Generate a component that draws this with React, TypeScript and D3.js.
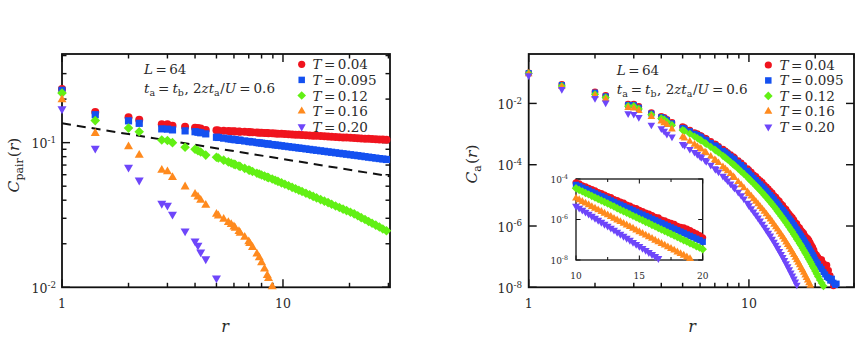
import React, { useEffect, useRef } from "react";
import * as d3 from "d3";

const W = 856;
const H = 338;
const FONT = "'DejaVu Serif', 'Liberation Serif', serif";

// ---- legend / series
const temps = ["0.04", "0.095", "0.12", "0.16", "0.20"];
const colors = ["#f0141e", "#1450f0", "#62f014", "#ff8a1e", "#6e46fa"];
const shapes = ["circle", "square", "diamond", "triangle", "triangleDown"];

// ---- left panel: C_pair(r)
const rPair = [
  1, 1.414, 2, 2.236, 2.828, 3, 3.162, 3.606, 4, 4.123, 4.243, 4.472,
  5, 5.1, 5.39, 5.66, 5.83, 6, 6.08, 6.32, 6.4, 6.71,
  7, 7.07, 7.28, 7.62, 7.81, 8, 8.25, 8.49, 8.6, 8.94,
  9.22, 9.49, 9.85, 10.2, 10.6, 11, 11.4, 11.8, 12.2, 12.7,
  13.2, 13.7, 14.2, 14.8, 15.4, 16, 16.6, 17.3, 18, 18.7,
  19.4, 20.2, 21, 21.8, 22.6, 23.5, 24.4, 25.3, 26.3, 27.3,
  28.3, 29.4,
];
const pairT004 = [
  0.235, 0.163, 0.150, 0.144, 0.134, 0.134, 0.131, 0.129, 0.127, 0.126, 0.125, 0.1225,
  0.1216, 0.1214, 0.1208, 0.1204, 0.1201, 0.1198, 0.1196, 0.1193, 0.1191, 0.1187,
  0.1183, 0.1182, 0.1179, 0.1175, 0.1172, 0.1170, 0.1167, 0.1164, 0.1163, 0.1159,
  0.1156, 0.1153, 0.1150, 0.1146, 0.1142, 0.1139, 0.1135, 0.1132, 0.1128, 0.1124,
  0.1121, 0.1117, 0.1114, 0.1110, 0.1106, 0.1102, 0.1099, 0.1095, 0.1091, 0.1087,
  0.1084, 0.1080, 0.1077, 0.1073, 0.1070, 0.1066, 0.1063, 0.1059, 0.1056, 0.1053,
  0.1050, 0.1046,
];
const pairT0095 = [
  0.230, 0.156, 0.1415, 0.136, 0.1245, 0.124, 0.1225, 0.1206, 0.119, 0.118, 0.117, 0.115,
  0.1090, 0.1086, 0.1074, 0.1063, 0.1057, 0.1051, 0.1048, 0.1040, 0.1037, 0.1027,
  0.1019, 0.1017, 0.1011, 0.1002, 0.0997, 0.0992, 0.0986, 0.0980, 0.0978, 0.0970,
  0.0964, 0.0959, 0.0952, 0.0945, 0.0938, 0.0931, 0.0925, 0.0918, 0.0912, 0.0905,
  0.0898, 0.0891, 0.0885, 0.0878, 0.0871, 0.0864, 0.0858, 0.0851, 0.0844, 0.0838,
  0.0832, 0.0825, 0.0819, 0.0813, 0.0807, 0.0800, 0.0794, 0.0788, 0.0782, 0.0776,
  0.0771, 0.0765,
];
const pairT012 = [
  0.220, 0.142, 0.126, 0.119, 0.1044, 0.1035, 0.100, 0.093, 0.090, 0.088, 0.0862, 0.082,
  0.0793, 0.0783, 0.0757, 0.0736, 0.0723, 0.0710, 0.0705, 0.0689, 0.0684, 0.0664,
  0.0647, 0.0644, 0.0632, 0.0615, 0.0607, 0.0598, 0.0587, 0.0577, 0.0573, 0.0560,
  0.0550, 0.0540, 0.0527, 0.0516, 0.0503, 0.0491, 0.0480, 0.0469, 0.0459, 0.0447,
  0.0436, 0.0425, 0.0415, 0.0404, 0.0394, 0.0385, 0.0375, 0.0365, 0.0356, 0.0347,
  0.0339, 0.0330, 0.0322, 0.0312, 0.0303, 0.0294, 0.0285, 0.0277, 0.0269, 0.0261,
  0.0253, 0.0246,
];
const pairT016 = [
  0.198, 0.116, 0.0938, 0.082, 0.0646, 0.063, 0.0575, 0.0495, 0.044, 0.0422, 0.040, 0.037,
  0.0320, 0.0312, 0.0296, 0.0281, 0.0272, 0.0262, 0.0256, 0.0243, 0.0237, 0.0222,
  0.0207, 0.0201, 0.0189, 0.0170, 0.0160, 0.0148, 0.0134, 0.0121, 0.0115, 0.0101,
];
const pairT020 = [
  0.171, 0.0914, 0.0675, 0.055, 0.038, 0.0369, 0.032, 0.0245, 0.0209, 0.0195, 0.0175, 0.0157,
  0.0116,
];
const pairSeries = [pairT004, pairT0095, pairT012, pairT016, pairT020];
// dashed guide line (r, C)
const pairGuide: [number, number][] = [[1, 0.136], [30.5, 0.0585]];

// ---- right panel: log10 C_a(r)
const rCa = [
  1, 1.414, 2, 2.236, 2.828, 3, 3.162, 3.606, 4, 4.123, 4.243, 4.472,
  5, 5.1, 5.39, 5.66, 5.83, 6, 6.08, 6.32, 6.4, 6.71,
  7, 7.07, 7.28, 7.62, 7.81, 8, 8.25, 8.49, 8.6, 8.94,
  9.22, 9.49, 9.85,
  10, 10.25, 10.5, 10.75, 11, 11.25, 11.5, 11.75, 12, 12.25,
  12.5, 12.75, 13, 13.25, 13.5, 13.75, 14, 14.25, 14.5, 14.75,
  15, 15.25, 15.5, 15.75, 16, 16.25, 16.5, 16.75, 17, 17.25,
  17.5, 17.75, 18, 18.25, 18.5, 18.75, 19, 19.25, 19.5, 19.75,
  20, 20.3, 20.6, 21, 21.4, 21.8, 22.2, 22.6, 23, 23.4,
  23.8, 24.2, 24.6, 25,
];
const caT004 = [
  -1.00, -1.38, -1.62, -1.74, -2.02, -2.02, -2.10, -2.30, -2.42, -2.46, -2.52, -2.62,
  -2.76, -2.79, -2.87, -2.95, -2.99, -3.04, -3.06, -3.13, -3.15, -3.24,
  -3.32, -3.34, -3.40, -3.49, -3.55, -3.61, -3.67, -3.74, -3.77, -3.87,
  -3.94, -4.02, -4.13,
  -4.18, -4.24, -4.33, -4.38, -4.46, -4.52, -4.58, -4.67, -4.72, -4.79,
  -4.86, -4.92, -5.01, -5.06, -5.14, -5.19, -5.28, -5.33, -5.42, -5.46,
  -5.55, -5.61, -5.68, -5.73, -5.80, -5.89, -5.92, -6.02, -6.06, -6.14,
  -6.19, -6.24, -6.33, -6.38, -6.41, -6.47, -6.55, -6.63, -6.70, -6.79,
  -6.90, -6.95, -7.02, -7.08, -7.10, -7.22, -7.30, -7.28, -7.45, -7.62,
  -7.80, -7.95,
];
const caT0095 = [
  -1.01, -1.40, -1.65, -1.77, -2.05, -2.05, -2.14, -2.33, -2.45, -2.49, -2.55, -2.65,
  -2.80, -2.83, -2.91, -2.99, -3.03, -3.08, -3.11, -3.18, -3.20, -3.29,
  -3.37, -3.39, -3.45, -3.55, -3.60, -3.66, -3.73, -3.80, -3.83, -3.93,
  -4.01, -4.09, -4.20,
  -4.29, -4.35, -4.43, -4.50, -4.57, -4.64, -4.71, -4.78, -4.85, -4.92,
  -4.99, -5.06, -5.13, -5.21, -5.27, -5.34, -5.42, -5.48, -5.55, -5.62,
  -5.70, -5.76, -5.83, -5.90, -5.97, -6.04, -6.11, -6.18, -6.25, -6.32,
  -6.39, -6.46, -6.53, -6.60, -6.66, -6.74, -6.81, -6.88, -6.95, -7.02,
  -7.10, -7.17, -7.24, -7.33, -7.40, -7.50, -7.58, -7.66, -7.70, -7.78,
  -7.72, -7.85, -7.92, -7.88,
];
const caT012 = [
  -1.02, -1.43, -1.70, -1.81, -2.09, -2.09, -2.18, -2.37, -2.49, -2.53, -2.60, -2.71,
  -2.87, -2.90, -2.99, -3.08, -3.13, -3.19, -3.21, -3.29, -3.32, -3.42,
  -3.51, -3.53, -3.60, -3.71, -3.77, -3.83, -3.91, -3.99, -4.02, -4.13,
  -4.22, -4.30, -4.41,
  -4.46, -4.54, -4.61, -4.69, -4.76, -4.84, -4.91, -4.99, -5.06, -5.14,
  -5.21, -5.29, -5.36, -5.44, -5.52, -5.59, -5.67, -5.74, -5.82, -5.89,
  -5.97, -6.04, -6.12, -6.19, -6.27, -6.34, -6.42, -6.49, -6.57, -6.64,
  -6.72, -6.79, -6.87, -6.94, -7.02, -7.09, -7.17, -7.24, -7.32, -7.39,
  -7.47, -7.56, -7.65, -7.76, -7.86, -7.96,
];
const caT016 = [
  -1.04, -1.46, -1.74, -1.86, -2.14, -2.16, -2.24, -2.44, -2.58, -2.64, -2.70, -2.84,
  -3.10, -3.14, -3.24, -3.34, -3.41, -3.47, -3.50, -3.59, -3.62, -3.73,
  -3.84, -3.87, -3.94, -4.07, -4.14, -4.21, -4.30, -4.39, -4.43, -4.56,
  -4.66, -4.76, -4.89,
  -4.95, -5.03, -5.12, -5.20, -5.28, -5.37, -5.45, -5.53, -5.61, -5.70,
  -5.78, -5.86, -5.95, -6.03, -6.11, -6.20, -6.28, -6.36, -6.44, -6.53,
  -6.61, -6.69, -6.78, -6.86, -6.94, -7.03, -7.11, -7.19, -7.27, -7.36,
  -7.44, -7.52, -7.61, -7.69, -7.77, -7.86, -7.94,
];
const caT020 = [
  -1.09, -1.54, -1.83, -1.98, -2.33, -2.35, -2.45, -2.70, -2.82, -2.90, -3.00, -3.09,
  -3.33, -3.37, -3.49, -3.59, -3.66, -3.73, -3.76, -3.85, -3.89, -4.01,
  -4.12, -4.15, -4.23, -4.37, -4.44, -4.52, -4.62, -4.71, -4.76, -4.89,
  -5.00, -5.11, -5.25,
  -5.33, -5.43, -5.53, -5.63, -5.73, -5.83, -5.93, -6.03, -6.13, -6.23,
  -6.32, -6.42, -6.52, -6.62, -6.72, -6.82, -6.92, -7.02, -7.12, -7.22,
  -7.32, -7.42, -7.52, -7.62, -7.72, -7.82, -7.92,
];
const caSeries = [caT004, caT0095, caT012, caT016, caT020];

// ---- ticks
const rMajor = [1, 10];
const rMinor = [2, 3, 4, 5, 6, 7, 8, 9, 20, 30];
const pairMajor = [0.01, 0.1];
const pairMinor = [0.02, 0.03, 0.04, 0.05, 0.06, 0.07, 0.08, 0.09, 0.2, 0.3, 0.4];
const caMajor = [1e-2, 1e-4, 1e-6, 1e-8];
const insetXMajor = [10, 15, 20];
const insetXMinor = [12.5, 17.5];
const insetYMajor = [1e-4, 1e-6, 1e-8];

type Part = { t: string; it?: boolean; sub?: boolean; sup?: boolean; dx?: number; size?: number };

function mathText(parent: any, x: number, y: number, parts: Part[], size: number, anchor = "start", rotate = 0) {
  const text = parent.append("text")
    .attr("x", x).attr("y", y)
    .attr("font-family", FONT)
    .attr("font-size", size)
    .attr("text-anchor", anchor)
    .attr("fill", "#2a2a2a");
  if (rotate) text.attr("transform", `rotate(${rotate},${x},${y})`);
  let shift = 0;
  parts.forEach((p) => {
    const target = p.sub ? size * 0.28 : p.sup ? -size * 0.42 : 0;
    const ts = text.append("tspan").text(p.t).attr("dy", target - shift);
    shift = target;
    if (p.sub || p.sup) ts.attr("font-size", size * 0.7);
    if (p.size) ts.attr("font-size", p.size);
    if (p.it) ts.attr("font-style", "italic");
    if (p.dx) ts.attr("dx", p.dx);
  });
  return text;
}

function markerPath(shape: string, k: number) {
  const r = 4 * k;
  if (shape === "circle") return `M${-r},0a${r},${r} 0 1,0 ${2 * r},0a${r},${r} 0 1,0 ${-2 * r},0Z`;
  if (shape === "square") {
    const h = 3.6 * k;
    return `M${-h},${-h}h${2 * h}v${2 * h}h${-2 * h}Z`;
  }
  if (shape === "diamond") {
    const d = 4.8 * k;
    return `M0,${-d}L${d},0L0,${d}L${-d},0Z`;
  }
  const a = 9 * k;
  const h = a * 0.866;
  if (shape === "triangle") return `M0,${(-2 * h) / 3}L${a / 2},${h / 3}L${-a / 2},${h / 3}Z`;
  return `M0,${(2 * h) / 3}L${a / 2},${-h / 3}L${-a / 2},${-h / 3}Z`;
}

function frame(g: any, x: any, y: any, xMaj: number[], xMin: number[], yMaj: number[], yMin: number[], maj: number, min: number, sw: number) {
  const [x0, x1] = x.range();
  const [y0, y1] = y.range(); // y0 bottom, y1 top
  const tick = (v: number, len: number, isX: boolean) => {
    if (isX) {
      const px = x(v);
      g.append("line").attr("x1", px).attr("x2", px).attr("y1", y0).attr("y2", y0 - len);
      g.append("line").attr("x1", px).attr("x2", px).attr("y1", y1).attr("y2", y1 + len);
    } else {
      const py = y(v);
      g.append("line").attr("x1", x0).attr("x2", x0 + len).attr("y1", py).attr("y2", py);
      g.append("line").attr("x1", x1).attr("x2", x1 - len).attr("y1", py).attr("y2", py);
    }
  };
  const xd = x.domain();
  const yd = y.domain();
  const inX = (v: number) => v >= Math.min(...xd) && v <= Math.max(...xd);
  const inY = (v: number) => v >= Math.min(...yd) && v <= Math.max(...yd);
  xMaj.filter(inX).forEach((v) => tick(v, maj, true));
  xMin.filter(inX).forEach((v) => tick(v, min, true));
  yMaj.filter(inY).forEach((v) => tick(v, maj, false));
  yMin.filter(inY).forEach((v) => tick(v, min, false));
  g.selectAll("line").attr("stroke", "#111").attr("stroke-width", sw * 0.8);
  g.append("rect")
    .attr("x", x0).attr("y", y1)
    .attr("width", x1 - x0).attr("height", y0 - y1)
    .attr("fill", "none").attr("stroke", "#111").attr("stroke-width", sw);
}

function drawPoints(g: any, x: any, y: any, rs: number[], series: number[][], k: number, keep: (r: number, v: number) => boolean) {
  series.forEach((vals, si) => {
    const pts = vals.map((v, i) => ({ r: rs[i], v })).filter((d) => keep(d.r, d.v));
    g.append("g")
      .selectAll("path")
      .data(pts)
      .enter()
      .append("path")
      .attr("d", markerPath(shapes[si], k))
      .attr("transform", (d: any) => `translate(${x(d.r)},${y(d.v)})`)
      .attr("fill", colors[si]);
  });
}

function legend(g: any, xSym: number, xText: number, yTop: number, step: number) {
  temps.forEach((t, i) => {
    const cy = yTop + i * step;
    g.append("path")
      .attr("d", markerPath(shapes[i], 0.9))
      .attr("transform", `translate(${xSym},${cy})`)
      .attr("fill", colors[i]);
    mathText(g, xText, cy + 5, [
      { t: "T", it: true },
      { t: "=", dx: 2.5 },
      { t: t, dx: 2.5 },
    ], 13.5);
  });
}

function annotation(g: any, x: number, y: number) {
  mathText(g, x, y, [{ t: "L", it: true }, { t: "=", dx: 2.5 }, { t: "64", dx: 2.5 }], 13.5);
  mathText(g, x, y + 18.5, [
    { t: "t", it: true },
    { t: "a", sub: true },
    { t: "=", dx: 3 },
    { t: "t", it: true, dx: 3 },
    { t: "b", sub: true },
    { t: ", 2", dx: 0.5 },
    { t: "zt", it: true },
    { t: "a", sub: true },
    { t: "/", dx: 0.5 },
    { t: "U", it: true },
    { t: "=", dx: 3 },
    { t: "0.6", dx: 3 },
  ], 13.5);
}

function powLabel(g: any, x: number, y: number, exp: string, size: number) {
  mathText(g, x, y, [{ t: "10" }, { t: exp, sup: true }], size, "end");
}

export default function App() {
  const svgRef = useRef<SVGSVGElement>(null);

  useEffect(() => {
    const svg = d3.select(svgRef.current);
    svg.selectAll("*").remove();

    // ------------- left panel
    const xL = d3.scaleLog().domain([1, 30.5]).range([62, 390]);
    const yL = d3.scaleLog().domain([0.01, 0.41]).range([287.3, 54]);
    const gL = svg.append("g");
    frame(gL.append("g"), xL, yL, rMajor, rMinor, pairMajor, pairMinor, 8, 4.5, 1.8);

    gL.append("path")
      .attr("d", d3.line<[number, number]>().x((d) => xL(d[0])).y((d) => yL(d[1]))(pairGuide))
      .attr("fill", "none")
      .attr("stroke", "#111")
      .attr("stroke-width", 2)
      .attr("stroke-dasharray", "9,6");

    drawPoints(gL, xL, yL, rPair, pairSeries, 1, (r, v) => r <= 30.5 && v >= 0.0099);

    powLabel(gL, 56, yL(0.1) + 5.5, "-1", 12.5);
    powLabel(gL, 56, yL(0.01) + 5.5, "-2", 12.5);
    rMajor.forEach((v) => {
      mathText(gL, xL(v), 308, [{ t: String(v) }], 12.5, "middle");
    });
    mathText(gL, 225, 332, [{ t: "r", it: true }], 16, "middle");
    mathText(gL, 19, 165, [
      { t: "C", it: true },
      { t: "pair", sub: true, size: 11 },
      { t: "(", dx: 1 },
      { t: "r", it: true },
      { t: ")" },
    ], 15.5, "middle", -90);
    annotation(gL, 144, 74);
    legend(gL, 301.7, 312.5, 64.3, 15.6);

    // ------------- right panel
    const xR = d3.scaleLog().domain([1, 30]).range([528.7, 854]);
    const yR = d3.scaleLog().domain([1e-8, 0.41]).range([287.3, 54]);
    const gR = svg.append("g");
    frame(gR.append("g"), xR, yR, rMajor, rMinor, caMajor, [], 8, 4.5, 1.8);

    const caLin = caSeries.map((s) => s.map((e) => Math.pow(10, e)));
    drawPoints(gR, xR, yR, rCa, caLin, 0.85, (r, v) => r <= 30 && v >= 0.99e-8);

    [["-2", 1e-2], ["-4", 1e-4], ["-6", 1e-6], ["-8", 1e-8]].forEach(([e, v]) => {
      powLabel(gR, 522, yR(v as number) + 5.5, e as string, 12.5);
    });
    rMajor.forEach((v) => {
      mathText(gR, xR(v), 308, [{ t: String(v) }], 12.5, "middle");
    });
    mathText(gR, 692, 332, [{ t: "r", it: true }], 16, "middle");
    mathText(gR, 477, 164, [
      { t: "C", it: true },
      { t: "a", sub: true, size: 11 },
      { t: "(", dx: 1 },
      { t: "r", it: true },
      { t: ")" },
    ], 15.5, "middle", -90);
    annotation(gR, 616.7, 75);
    legend(gR, 768.3, 779.5, 65, 15.45);

    // ------------- inset
    const xI = d3.scaleLinear().domain([10, 20]).range([576, 702.7]);
    const yI = d3.scaleLog().domain([1e-8, 1e-4]).range([260, 179]);
    const gI = svg.append("g");
    gI.append("rect").attr("x", 576).attr("y", 179).attr("width", 126.7).attr("height", 81).attr("fill", "white");
    frame(gI.append("g"), xI, yI, insetXMajor, insetXMinor, insetYMajor, [], 4.5, 3, 1.3);
    drawPoints(gI, xI, yI, rCa, caLin, 0.88, (r, v) => r >= 10 && r <= 20 && v >= 0.99e-8);
    [["-4", 1e-4], ["-6", 1e-6], ["-8", 1e-8]].forEach(([e, v]) => {
      powLabel(gI, 568, yI(v as number) + 3.5, e as string, 9);
    });
    insetXMajor.forEach((v) => {
      mathText(gI, xI(v), 279, [{ t: String(v) }], 9, "middle");
    });
  }, []);

  return (
    <div style={{ position: "absolute", left: 0, top: 0, width: W, height: H, background: "white" }}>
      <svg ref={svgRef} width={W} height={H} style={{ display: "block" }} />
    </div>
  );
}
